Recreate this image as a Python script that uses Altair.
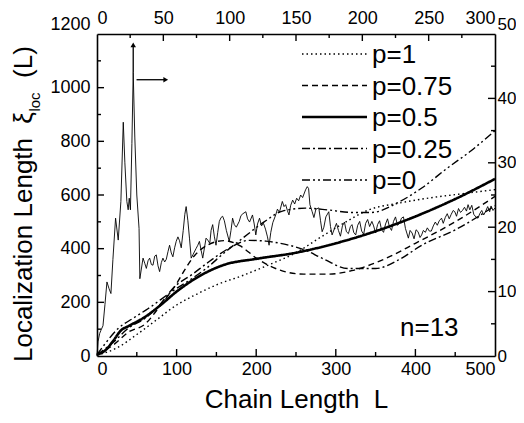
import altair as alt
import pandas as pd

FONT = "Liberation Sans"
W, H = 398, 322

# ---------------- p-series : bottom axis (Chain Length L), left axis (xi_loc) --------------
P_LABELS = ["p=1", "p=0.75", "p=0.5", "p=0.25", "p=0"]

L_P1 = [0, 25, 50, 75, 100, 125, 150, 183, 216, 250, 279, 310, 341, 380, 420, 460, 500]
XI_P1 = [3, 30, 80, 135, 190, 230, 265, 300, 340, 385, 439, 495, 544, 570, 590, 605, 620]

L_P075 = [0, 20, 40, 60, 80, 100, 110, 120, 140, 160, 180, 200, 230, 260, 290, 320, 360, 400, 450, 500]
XI_P075 = [5, 40, 90, 118, 190, 270, 320, 365, 415, 430, 410, 365, 320, 305, 305, 318, 360, 420, 500, 595]

L_P05 = [0, 10, 20, 30, 40, 60, 80, 100, 130, 160, 200, 250, 300, 350, 400, 450, 500]
XI_P05 = [5, 20, 55, 95, 112, 145, 190, 240, 300, 340, 362, 385, 420, 465, 520, 585, 660]

L_P025 = [0, 20, 40, 60, 80, 95, 120, 141, 165, 191, 212, 241, 262, 283, 316, 350, 380, 408, 450, 500]
XI_P025 = [5, 50, 105, 140, 195, 251, 305, 352, 400, 431, 428, 413, 394, 364, 326, 326, 360, 413, 470, 560]

L_P0 = [0, 10, 26, 45, 64, 94, 120, 137, 160, 183, 210, 233, 262, 291, 320, 345, 380, 408, 440, 470, 500]
XI_P0 = [5, 45, 101, 140, 176, 240, 290, 326, 385, 439, 500, 540, 551, 544, 535, 535, 575, 626, 700, 765, 840]

DASHES = [[1.5, 3], [6, 4], [1, 0], [8, 3, 2, 3], [8, 3, 2, 3, 2, 3]]
WIDTHS = [1.4, 1.4, 2.6, 1.4, 1.4]

# ---------------- noisy series : top axis (0-300), right axis (0-50) ----------------------
NX = [0, 0.75, 2, 3, 4.5, 6, 7.5, 9, 10.5, 12, 14, 16, 18, 19.8, 21, 22.5, 23.5, 24.3, 25.2,
      26.3, 27.3, 28.5, 30, 31.7, 32.3,
      34.7, 36, 37.2, 38.5, 39.7, 41, 42.2, 43.5, 44.7, 46, 47.2, 48.5, 49.7, 51, 52.2, 53.5,
      54.7, 56, 57.2, 58.5, 59.7, 61, 62.2, 63.5, 65, 66.2, 67.2, 68.5, 69.7, 71, 72.5, 74.7,
      76, 77.2, 78.5, 79.7, 81, 82.2, 83.5, 85, 86, 87.2, 88.5, 89.7, 91, 92.2, 93.5, 94.7,
      96, 97.5, 99.7, 101, 102.2, 103.5, 105, 107.2, 108.5, 110, 112.2, 113.5, 115, 117.2,
      118.5, 119.7, 121, 122.5, 124, 125.5, 127, 128.5, 129.7, 131, 132.5, 134.7, 136, 137.5,
      139.7, 141, 142.2, 143.5, 144.7, 146, 147.5, 149, 150.5, 152, 153.5, 155, 157.2, 158.5,
      159.5, 160.5, 162.2, 163.5, 165, 167.2, 168.5, 169.7, 171, 172.5, 174.7, 176, 177.2,
      179, 180.5, 182, 183.5, 185, 186.5, 188, 189.5, 191, 192.2, 193.5, 195, 196.5, 198,
      199.5, 201, 202.5, 204, 205.5, 207.2, 208.5, 210, 211.5, 213, 214.5, 216, 217.5, 219,
      220.5, 222, 223.5, 225, 226.5, 228, 229.5, 231, 232.5, 234.7, 236, 237.5, 239, 240.5,
      242, 243.5, 244.7, 246, 247.5, 249, 250.5, 252, 253.5, 255, 256.5, 258, 259.7, 261,
      262.5, 264, 265.5, 267, 268.5, 269.7, 271, 272.5, 274, 275.5, 277, 278.5, 279.7, 281,
      282.5, 284, 285.5, 287.2, 288.5, 290, 291.5, 293, 294.5, 296, 297, 298.5, 300]
NY = [0, 2.2, 3.5, 4.0, 4.7, 8, 11.5, 10.5, 9.7, 15, 21.4, 18, 24, 36.3, 30, 24, 22.7, 24.5, 22.7,
      33, 44, 34, 25, 19.8, 12.0,
      15.2, 14.4, 13.6, 14.8, 15.2, 14.2, 14.1, 15.5, 15.7, 14.0, 13.1, 14.5, 15.2, 14.6, 15.0, 16.2,
      17.2, 16.0, 15.4, 16.8, 17.8, 18.5, 17.9, 16.8, 19.5, 22, 23.2, 21, 18.3, 15.2, 15.8, 16.7,
      17.2, 17.8, 16.4, 15.2, 16.8, 18.3, 18.0, 17.5, 19.5, 20.4, 18.5, 17.2, 19.2, 20.9, 21.5, 21.7,
      21.0, 19.5, 17.8, 19.5, 21.4, 20.4, 20.0, 20.9, 21.8, 22.1, 22.4, 21.3, 20.8, 21.9,
      20.5, 18.8, 20.5, 21.4, 20.2, 20.6, 19.7, 18.5, 17.2, 19.2, 20.7, 21.9, 22.8, 22.3,
      24.0, 23.2, 23.5, 22.6, 21.9, 23.4, 24.2, 23.6, 24.5, 24.1, 25.0, 24.6, 25.8, 26.3,
      26.0, 23.5, 22.4, 21.5, 22.8, 23.0, 21.0, 19.3, 20.0, 21.6, 22.4, 20.1, 18.8,
      19.8, 20.6, 19.5, 18.6, 20.2, 20.8, 19.3, 19.0, 20.1, 20.4, 19.2, 18.8, 20.3, 20.9,
      19.4, 18.9, 20.6, 21.2, 20.1, 20.9, 20.2, 19.1, 20.4, 21.0, 19.6, 19.2, 20.5, 21.3,
      20.0, 19.5, 20.9, 21.6, 20.3, 20.6, 21.4, 21.6, 19.8, 18.3, 19.5, 19.1, 18.2, 19.6,
      19.3, 18.4, 18.8, 19.5, 19.2, 19.9, 19.4, 19.4, 20.2, 20.8, 20.3, 21.0, 21.4, 20.6,
      21.5, 22.1, 21.3, 22.0, 22.6, 22.4, 21.7, 22.9, 22.3, 22.6, 23.1, 22.5, 23.5, 22.7,
      23.4, 22.0, 21.6, 21.4, 22.1, 22.6, 21.9, 22.5, 23.2, 22.4, 23.3, 22.6, 23.0]

# arrows (top/right axis units)
ARROW_UP_X = 27.3
ARROW_UP_Y = [44.0, 48.3]
ARROW_RIGHT_Y = 42.9
ARROW_RIGHT_X = [29.8, 51.8]

# ticks
TICK_L_MAJOR = [100, 200, 300, 400]
TICK_L_MINOR = [50, 150, 250, 350, 450]
TICK_XI_MAJOR = [200, 400, 600, 800, 1000]
TICK_XI_MINOR = [100, 300, 500, 700, 900, 1100]
TICK_T_MAJOR = [50, 100, 150, 200, 250]
TICK_T_MINOR = [25, 75, 125, 175, 225, 275]
TICK_R_MAJOR = [10, 20, 30, 40]
TICK_R_MINOR = [5, 15, 25, 35, 45]

# ---------------- data frames ----------------
rows = []
for lab, Ls, Xs, w in zip(P_LABELS, [L_P1, L_P075, L_P05, L_P025, L_P0],
                          [XI_P1, XI_P075, XI_P05, XI_P025, XI_P0], WIDTHS):
    for l, v in zip(Ls, Xs):
        rows.append({"p": lab, "L": l, "xi": v, "w": w})
curves = pd.DataFrame(rows)
noisy = pd.DataFrame({"xt": NX, "yr": NY})
legend_df = pd.DataFrame({"p": P_LABELS, "row": list(range(5)), "w": WIDTHS})


def sc(lo, hi):
    return alt.Scale(domain=[lo, hi], nice=False, zero=False)


xs, ys, xt, yr = (0, 500), (0, 1200), (0, 300), (0, 50)
dash_scale = alt.Scale(domain=P_LABELS, range=DASHES)

ax_common = dict(ticks=False, grid=False, domainColor="black", domainWidth=1.6, format="d",
                 labelFont=FONT, labelColor="black",
                 titleFont=FONT, titleColor="black", titleFontWeight="normal")

lines = alt.Chart(curves).mark_line(color="black", interpolate="monotone").encode(
    x=alt.X("L:Q", scale=sc(*xs),
            axis=alt.Axis(orient="bottom", values=[0, 100, 200, 300, 400, 500],
                          title="Chain Length \u00a0L", labelFontSize=18,
                          titleFontSize=26, labelPadding=4, titlePadding=8, **ax_common)),
    y=alt.Y("xi:Q", scale=sc(*ys),
            axis=alt.Axis(orient="left", values=[0, 200, 400, 600, 800, 1000, 1200], title=None,
                          labelPadding=7, labelFontSize=18,
                          labelOffset=alt.condition("datum.value == 1200", alt.value(-10), alt.value(0)),
                          **ax_common)),
    strokeDash=alt.StrokeDash("p:N", scale=dash_scale, legend=None),
    strokeWidth=alt.StrokeWidth("w:Q", scale=None),
    detail="p:N",
)

noise_line = alt.Chart(noisy).mark_line(color="black", strokeWidth=0.9).encode(
    x=alt.X("xt:Q", scale=sc(*xt),
            axis=alt.Axis(orient="top", values=[0, 50, 100, 150, 200, 250, 300], title=None,
                          labelPadding=7, labelFontSize=18, **ax_common)),
    y=alt.Y("yr:Q", scale=sc(*yr),
            axis=alt.Axis(orient="right", values=[0, 10, 20, 30, 40, 50], title=None,
                          labelPadding=2, labelFontSize=17,
                          labelOffset=alt.condition("datum.value == 50", alt.value(-10), alt.value(0)),
                          **ax_common)),
)


def xticks(vals, dom, length, top=False):
    df = pd.DataFrame({"v": vals})
    y0, y1 = (0, length) if top else (H, H - length)
    return alt.Chart(df).mark_rule(color="black", strokeWidth=1.4).encode(
        x=alt.X("v:Q", scale=sc(*dom), axis=None), y=alt.value(y0), y2=alt.value(y1))


def yticks(vals, dom, length, right=False):
    df = pd.DataFrame({"v": vals})
    x0, x1 = (W, W - length) if right else (0, length)
    return alt.Chart(df).mark_rule(color="black", strokeWidth=1.4).encode(
        y=alt.Y("v:Q", scale=sc(*dom), axis=None), x=alt.value(x0), x2=alt.value(x1))


def label(text, x, y, size, angle=0, align="center", baseline="alphabetic"):
    return alt.Chart(pd.DataFrame({"t": [text]})).mark_text(
        font=FONT, fontSize=size, angle=angle, align=align, baseline=baseline, color="black"
    ).encode(text="t:N", x=alt.value(x), y=alt.value(y))


up_df = pd.DataFrame({"x": [ARROW_UP_X], "y0": [ARROW_UP_Y[0]], "y1": [ARROW_UP_Y[1]]})
right_df = pd.DataFrame({"y": [ARROW_RIGHT_Y], "x0": [ARROW_RIGHT_X[0]], "x1": [ARROW_RIGHT_X[1]]})
arrow_up = alt.Chart(up_df).mark_rule(color="black", strokeWidth=1.3).encode(
    x=alt.X("x:Q", scale=sc(*xt), axis=None), y=alt.Y("y0:Q", scale=sc(*yr), axis=None), y2="y1:Q")
arrow_up_head = alt.Chart(up_df).mark_point(shape="triangle-up", filled=True, size=30,
                                            color="black", opacity=1).encode(
    x=alt.X("x:Q", scale=sc(*xt), axis=None), y=alt.Y("y1:Q", scale=sc(*yr), axis=None))
arrow_r = alt.Chart(right_df).mark_rule(color="black", strokeWidth=1.3).encode(
    y=alt.Y("y:Q", scale=sc(*yr), axis=None), x=alt.X("x0:Q", scale=sc(*xt), axis=None), x2="x1:Q")
arrow_r_head = alt.Chart(right_df).mark_point(shape="triangle-right", filled=True, size=30,
                                              color="black", opacity=1).encode(
    y=alt.Y("y:Q", scale=sc(*yr), axis=None), x=alt.X("x1:Q", scale=sc(*xt), axis=None))

leg_y = alt.Y("row:Q", scale=alt.Scale(domain=[0, 4], range=[20, 146]), axis=None)
leg_lines = alt.Chart(legend_df).mark_rule(color="black").encode(
    x=alt.value(205), x2=alt.value(270), y=leg_y,
    strokeDash=alt.StrokeDash("p:N", scale=dash_scale, legend=None),
    strokeWidth=alt.StrokeWidth("w:Q", scale=None),
)
leg_text = alt.Chart(legend_df).mark_text(font=FONT, fontSize=26, align="left",
                                          baseline="middle", color="black", dy=1).encode(
    x=alt.value(275), y=leg_y, text="p:N")

chart = alt.layer(
    lines, noise_line,
    xticks(TICK_L_MAJOR, xs, 7), xticks(TICK_L_MINOR, xs, 4),
    yticks(TICK_XI_MAJOR, ys, 7), yticks(TICK_XI_MINOR, ys, 4),
    xticks(TICK_T_MAJOR, xt, 7, top=True), xticks(TICK_T_MINOR, xt, 4, top=True),
    yticks(TICK_R_MAJOR, yr, 7, right=True), yticks(TICK_R_MINOR, yr, 4, right=True),
    arrow_up, arrow_up_head, arrow_r, arrow_r_head,
    leg_lines, leg_text,
    label("Localization Length", -65, 216, 26, angle=270),
    label("\u03be", -65, 84, 26, angle=270),
    label("loc", -57, 68, 15, angle=270),
    label("(L)", -65, 28, 26, angle=270),
    label("n=13", 303, 302, 26, align="left"),
).resolve_scale(
    x="independent", y="independent"
).properties(
    width=W, height=H,
    autosize=alt.AutoSizeParams(type="none"),
    padding={"left": 89, "top": 26, "right": 21, "bottom": 59},
    background="white",
).configure_view(stroke=None)

chart.save("out.html", embed_options={"renderer": "svg", "actions": False})
